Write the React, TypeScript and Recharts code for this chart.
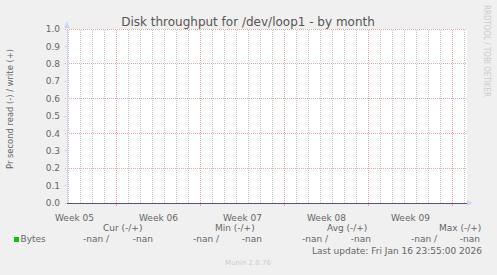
import {
  CartesianGrid,
  Line,
  LineChart,
  ReferenceDot,
  ReferenceLine,
  XAxis,
  YAxis
} from "recharts";

const TITLE = "Disk throughput for /dev/loop1 - by month";
const Y_LABEL = "Pr second read (-) / write (+)";

// time axis in days from the first day line of the view
const X_DOMAIN = [-0.125, 33.208];
const dayTicks = [
  0, 1, 2, 3, 4, 5, 6, 7, 8, 9, 10, 11, 12, 13, 14, 15, 16,
  17, 18, 19, 20, 21, 22, 23, 24, 25, 26, 27, 28, 29, 30, 31, 32, 33
];
const weekStarts = [4, 11, 18, 25, 32];
const weekMids = [0.5, 7.5, 14.5, 21.5, 28.5];
const weekLabels = ["Week 05", "Week 06", "Week 07", "Week 08", "Week 09"];

const yTicks = [0, 0.1, 0.2, 0.3, 0.4, 0.5, 0.6, 0.7, 0.8, 0.9, 1.0];

// Bytes series: every sample is -nan
const sampleDays = [0, 7, 14, 21, 28, 33];
const readBytes = [null, null, null, null, null, null];
const writeBytes = [null, null, null, null, null, null];

const legendHeads = ["Cur (-/+)", "Min (-/+)", "Avg (-/+)", "Max (-/+)"];
const legendRead = ["-nan", "-nan", "-nan", "-nan"];
const legendWrite = ["-nan", "-nan", "-nan", "-nan"];
const LAST_UPDATE = "Last update: Fri Jan 16 23:55:00 2026";

const FONT = '"DejaVu Sans", Verdana, sans-serif';
const TEXT = "#666666";
const AXIS = "#CFD6F8";
const MGRID = "#EBA5A5";
const GRID = "#C8C8C8";
const GREEN = "#00CC00";

const data = sampleDays.map((d, i) => ({
  day: d,
  read: readBytes[i] === null ? null : -(readBytes[i] as number),
  write: writeBytes[i]
}));

const headX = [103, 215, 327, 439];
const readX = [83, 193, 302, 411];
const writeEndX = [153, 262, 371, 480];

function UpArrow(props: any) {
  const { cx, cy } = props;
  return <path d={`M${cx},${cy - 8} L${cx - 3},${cy - 1} L${cx + 3},${cy - 1} Z`} fill={AXIS} />;
}

function RightArrow(props: any) {
  const { cx, cy } = props;
  return <path d={`M${cx + 6},${cy} L${cx},${cy - 3} L${cx},${cy + 3} Z`} fill={AXIS} />;
}

export default function App() {
  return (
    <div
      style={{
        position: "fixed",
        left: 0,
        top: 0,
        width: 497,
        height: 275,
        background: "#F0F0F0",
        fontFamily: FONT
      }}
    >
      <LineChart
        width={497}
        height={275}
        data={data}
        margin={{ top: 29, right: 30, bottom: 52, left: 0 }}
      >
        <XAxis
          type="number"
          dataKey="day"
          domain={X_DOMAIN}
          ticks={weekMids}
          tickFormatter={(v) => weekLabels[weekMids.indexOf(v)] ?? ""}
          height={20}
          axisLine={false}
          tickLine={false}
          tickMargin={6}
          tick={{ fill: TEXT, fontSize: 9, fontFamily: FONT }}
          allowDataOverflow
        />
        <YAxis
          type="number"
          domain={[0, 1]}
          ticks={yTicks}
          width={67}
          tickFormatter={(v) => v.toFixed(1)}
          axisLine={{ stroke: AXIS, shapeRendering: "crispEdges" }}
          tickLine={{ stroke: MGRID, strokeDasharray: "1 1", shapeRendering: "crispEdges" }}
          tickSize={2}
          tickMargin={5}
          tick={{ fill: TEXT, fontSize: 9, fontFamily: FONT }}
          allowDataOverflow
          label={{
            value: Y_LABEL,
            angle: -90,
            position: "center",
            dx: -23,
            dy: -7,
            fill: TEXT,
            fontSize: 8.4,
            fontFamily: FONT
          }}
        />
        <CartesianGrid vertical={false} stroke="none" fill="#FFFFFF" />
        {dayTicks.map((d) => (
          <ReferenceLine
            key={"d" + d}
            x={d}
            stroke={GRID}
            strokeDasharray="1 1"
            shapeRendering="crispEdges"
          />
        ))}
        <CartesianGrid
          vertical={false}
          stroke={MGRID}
          strokeDasharray="1 1"
          shapeRendering="crispEdges"
        />
        {weekStarts.map((w) => (
          <ReferenceLine
            key={"w" + w}
            x={w}
            stroke={MGRID}
            strokeDasharray="1 1"
            shapeRendering="crispEdges"
          />
        ))}
        {weekStarts.map((w) => (
          <ReferenceLine
            key={"t" + w}
            segment={[
              { x: w, y: 0 },
              { x: w, y: -0.015 }
            ]}
            stroke={MGRID}
            shapeRendering="crispEdges"
            ifOverflow="visible"
          />
        ))}
        <ReferenceLine y={0} stroke="#5A5577" shapeRendering="crispEdges" />
        <ReferenceDot x={X_DOMAIN[0]} y={1} r={0} ifOverflow="visible" shape={UpArrow} />
        <ReferenceDot x={X_DOMAIN[1]} y={0} r={0} ifOverflow="visible" shape={RightArrow} />
        <Line dataKey="read" stroke={GREEN} dot={false} isAnimationActive={false} />
        <Line dataKey="write" stroke={GREEN} dot={false} isAnimationActive={false} />
      </LineChart>
      <svg
        width={497}
        height={275}
        style={{ position: "absolute", left: 0, top: 0, pointerEvents: "none" }}
        fontFamily={FONT}
      >
        <text x={248} y={25.5} textAnchor="middle" fontSize={12} fill="#555555">
          {TITLE}
        </text>
        <text
          x={484}
          y={5}
          fontSize={9}
          fill="#CCCCCC"
          textLength={92}
          lengthAdjust="spacingAndGlyphs"
          transform="rotate(90 484 5)"
        >
          RRDTOOL / TOBI OETIKER
        </text>
        {legendHeads.map((h, i) => (
          <text key={h} x={headX[i]} y={230.5} fontSize={9} fill={TEXT}>
            {h}
          </text>
        ))}
        <rect x={14} y={237} width={5} height={5} fill={GREEN} />
        <text x={20.5} y={242} fontSize={9} fill={TEXT}>
          Bytes
        </text>
        {legendRead.map((v, i) => (
          <text key={"r" + i} x={readX[i]} y={242} fontSize={9} fill={TEXT}>
            {v} /
          </text>
        ))}
        {legendWrite.map((v, i) => (
          <text key={"w" + i} x={writeEndX[i]} y={242} textAnchor="end" fontSize={9} fill={TEXT}>
            {v}
          </text>
        ))}
        <text x={482} y={254} textAnchor="end" fontSize={9} fill={TEXT}>
          {LAST_UPDATE}
        </text>
        <text x={248} y={265} textAnchor="middle" fontSize={7} fill="#CCCCCC">
          Munin 2.0.76
        </text>
      </svg>
    </div>
  );
}
